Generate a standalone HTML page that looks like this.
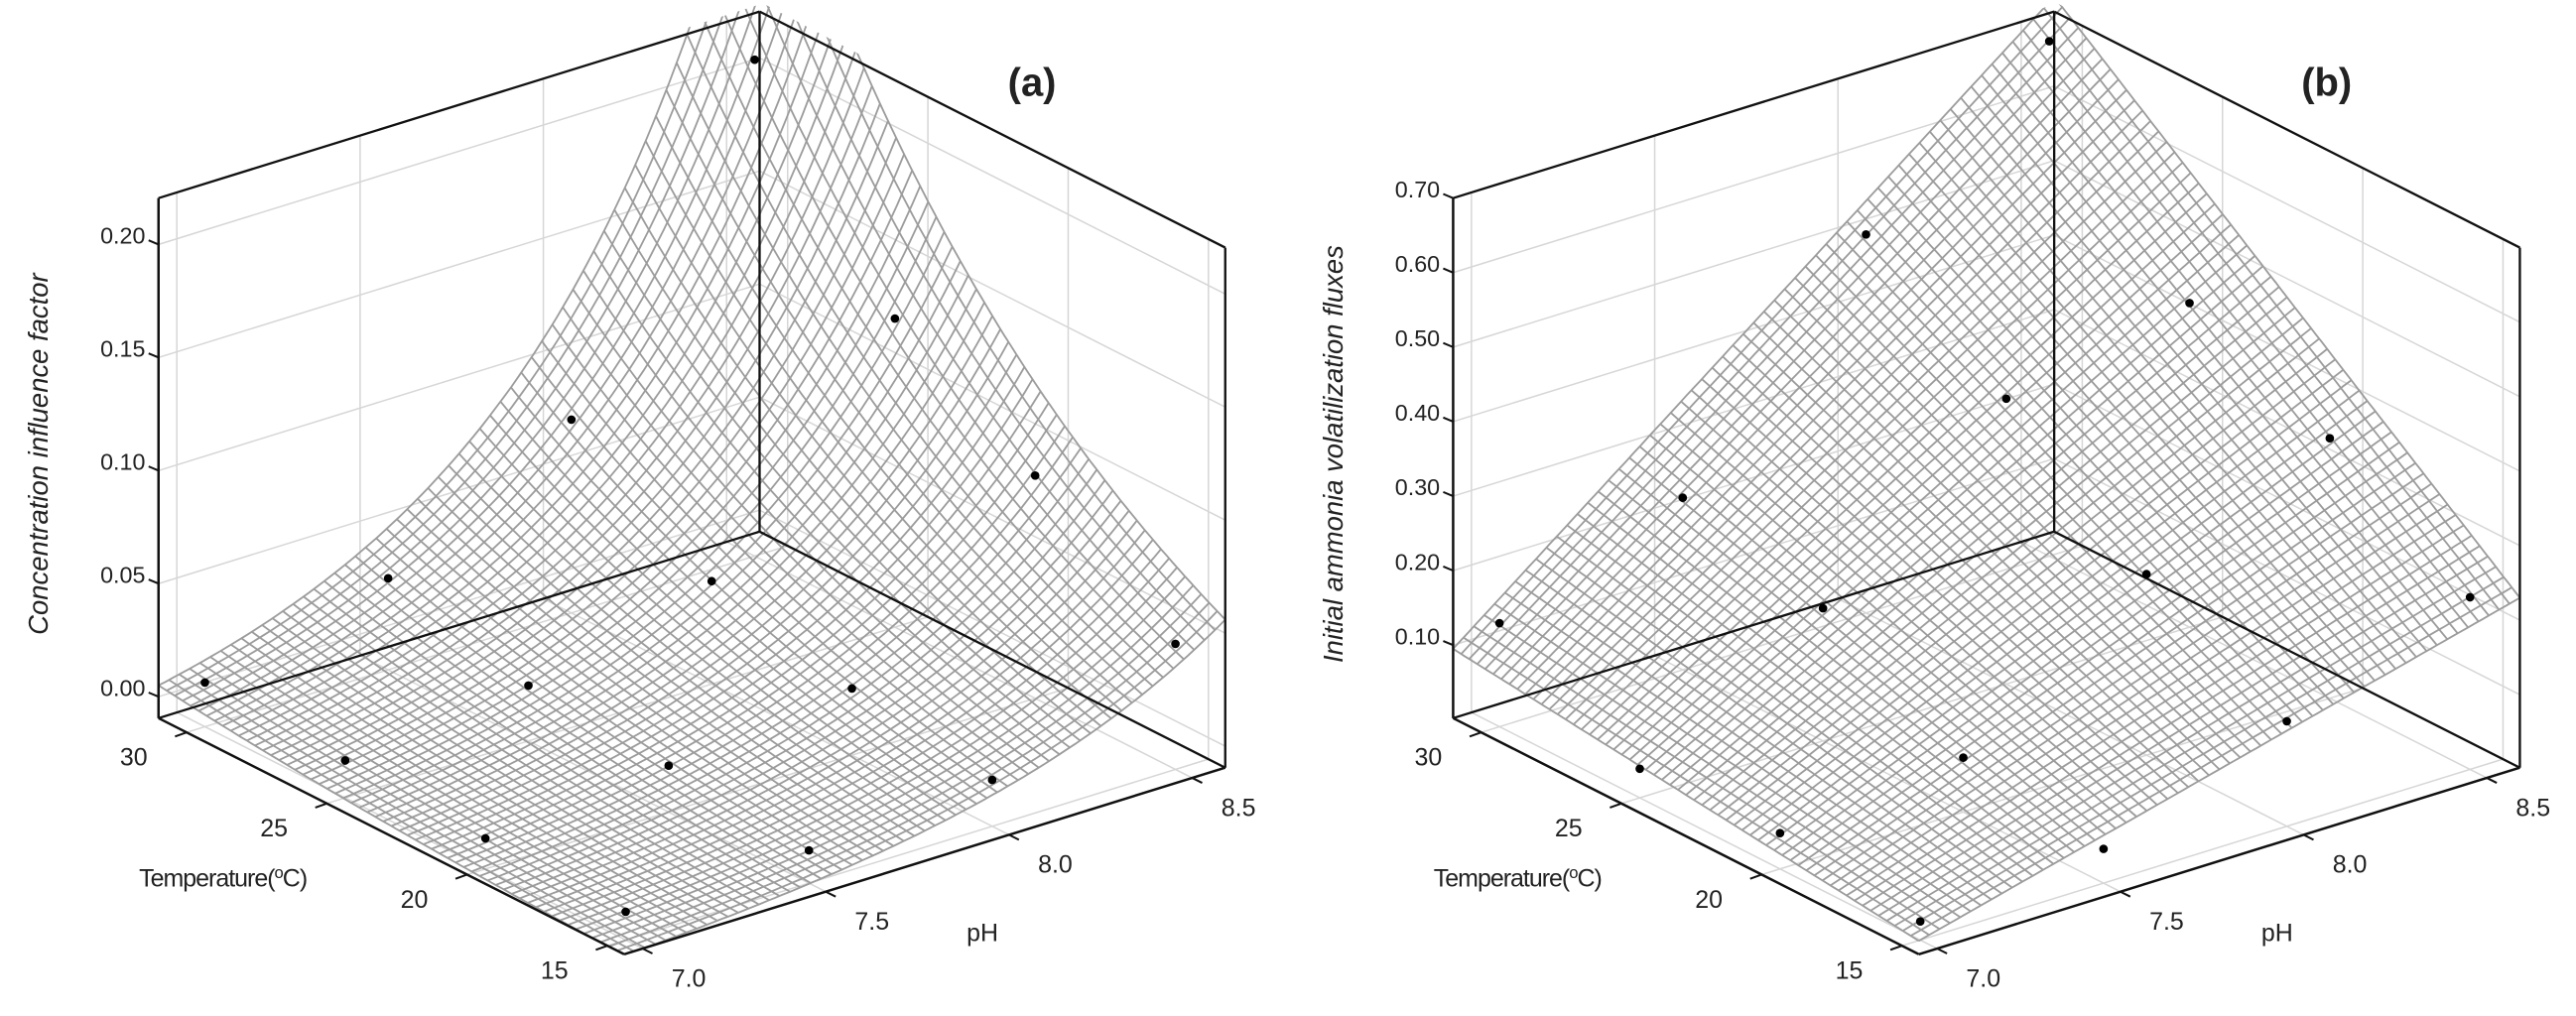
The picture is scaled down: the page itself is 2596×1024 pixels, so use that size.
<!DOCTYPE html>
<html><head><meta charset="utf-8"><style>
html,body{margin:0;padding:0;background:#fff;}
svg{display:block;}
text{font-family:"Liberation Sans",Arial,sans-serif;fill:#222;}
</style></head><body>
<svg id="fig" xmlns="http://www.w3.org/2000/svg" width="2596" height="1024" viewBox="0 0 1560 615.4" preserveAspectRatio="none">
<defs>
<clipPath id="clipA"><polygon points="96,120 462,2 742,150 742,465 378,578 96,435"/></clipPath>
<clipPath id="clipB"><polygon points="880,120 1246,2 1526,150 1526,465 1162,578 880,435"/></clipPath>
</defs>
<g id="panelA"></g>
<g id="panelB"></g>
</svg>
<script>
// ---- data ----
const temps = [15, 20, 25, 30];
const phs = [7.0, 7.5, 8.0, 8.5];
// rows: temperature, cols: pH
const valuesA = [
  [0.003, 0.005, 0.011, 0.046],
  [0.004, 0.011, 0.020, 0.089],
  [0.007, 0.015, 0.036, 0.127],
  [0.010, 0.031, 0.076, 0.210]
];
const valuesB = [
  [0.027, 0.048, 0.143, 0.233],
  [0.050, 0.075, 0.245, 0.351],
  [0.041, 0.180, 0.385, 0.437],
  [0.141, 0.233, 0.510, 0.693]
];
const zTicksA = [0.00, 0.05, 0.10, 0.15, 0.20];
const zTickLabelsA = ["0.00", "0.05", "0.10", "0.15", "0.20"];
const zTicksB = [0.10, 0.20, 0.30, 0.40, 0.50, 0.60, 0.70];
const zTickLabelsB = ["0.10", "0.20", "0.30", "0.40", "0.50", "0.60", "0.70"];
const tTicks = [15, 20, 25, 30];
const tTickLabels = ["15", "20", "25", "30"];
const phTicks = [7.0, 7.5, 8.0, 8.5];
const phTickLabels = ["7.0", "7.5", "8.0", "8.5"];
// fitted surface corner values: [T low & pH low, T low & pH high, T high & pH low, T high & pH high]
const surfaceCornersA = [0.005, 0.071, 0.020, 0.330];
const surfaceCornersB = [0.020, 0.230, 0.095, 0.720];

const NS = "http://www.w3.org/2000/svg";
const T0 = 14.4, T1 = 31.0, P0 = 6.95, P1 = 8.59;

function makePanel(cfg) {
  const g = document.getElementById(cfg.id);
  const Fx = cfg.Fx, Fy = 578;
  function proj(T, pH, z) {
    const u = (pH - P0) / (P1 - P0), v = (T - T0) / (T1 - T0);
    const w = (z - cfg.z0) / (cfg.z1 - cfg.z0);
    return [Fx + 364 * u - 282 * v, Fy - 113 * u - 143 * v - 315 * w];
  }
  function el(tag, attrs, parent) {
    const e = document.createElementNS(NS, tag);
    for (const k in attrs) e.setAttribute(k, attrs[k]);
    (parent || g).appendChild(e);
    return e;
  }
  function line(a, b, stroke, sw, parent, name) {
    const e = el("line", {x1: a[0], y1: a[1], x2: b[0], y2: b[1], stroke: stroke, "stroke-width": sw}, parent);
    
    
    return e;
  }
  const gridC = "#d6d6d6";
  cfg.zTicks.forEach(z => {
    line(proj(T1, P0, z), proj(T1, P1, z), gridC, 0.9, g, 'left-wall-gridline');
    line(proj(T1, P1, z), proj(T0, P1, z), gridC, 0.9, g, 'right-wall-gridline');
  });
  phTicks.forEach(p => {
    line(proj(T1, p, cfg.z0), proj(T1, p, cfg.z1), gridC, 0.9, g, 'left-wall-gridline');
    line(proj(T0, p, cfg.z0), proj(T1, p, cfg.z0), gridC, 0.9, g, 'floor-gridline');
  });
  tTicks.forEach(t => {
    line(proj(t, P1, cfg.z0), proj(t, P1, cfg.z1), gridC, 0.9, g, 'right-wall-gridline');
    line(proj(t, P0, cfg.z0), proj(t, P1, cfg.z0), gridC, 0.9, g, 'floor-gridline');
  });

  // surface mesh
  const c = cfg.corners;
  function surf(T, pH) {
    const u = (pH - P0) / (P1 - P0), v = (T - T0) / (T1 - T0);
    if (cfg.log) {
      const off = 0.015;
      const l = c.map(x => Math.log(x));
      const lv = l[0] * (1 - u) * (1 - v) + l[1] * u * (1 - v) + l[2] * (1 - u) * v + l[3] * u * v;
      return Math.exp(lv) - off;
    }
    return c[0] * (1 - u) * (1 - v) + c[1] * u * (1 - v) + c[2] * (1 - u) * v + c[3] * u * v;
  }
  const mesh = el("g", {"clip-path": "url(#" + cfg.clip + ")", fill: "none", stroke: "#9c9c9c", "stroke-width": 1.1});
  
  
  const N = 58, M = 80;
  for (let i = 0; i <= N; i++) {
    const pH = P0 + (P1 - P0) * i / N;
    let d = "";
    for (let j = 0; j <= M; j++) {
      const T = T0 + (T1 - T0) * j / M;
      const p = proj(T, pH, surf(T, pH));
      d += (j ? "L" : "M") + p[0].toFixed(1) + " " + p[1].toFixed(1);
    }
    const e = el("path", {d: d}, mesh);
    
    
  }
  for (let i = 0; i <= N; i++) {
    const T = T0 + (T1 - T0) * i / N;
    let d = "";
    for (let j = 0; j <= M; j++) {
      const pH = P0 + (P1 - P0) * j / M;
      const p = proj(T, pH, surf(T, pH));
      d += (j ? "L" : "M") + p[0].toFixed(1) + " " + p[1].toFixed(1);
    }
    const e = el("path", {d: d}, mesh);
    
    
  }

  // box edges
  const bk = "#111";
  line(proj(T1, P0, cfg.z0), proj(T1, P1, cfg.z0), bk, 1.4, g, 'floor-back-edge');
  line(proj(T1, P1, cfg.z0), proj(T0, P1, cfg.z0), bk, 1.4, g, 'floor-back-edge');
  line(proj(T1, P1, cfg.z0), proj(T1, P1, cfg.z1), bk, 1.4, g, 'back-vertical-edge');
  line(proj(T1, P0, cfg.z1), proj(T1, P1, cfg.z1), bk, 1.4, g, 'top-left-edge');
  line(proj(T1, P1, cfg.z1), proj(T0, P1, cfg.z1), bk, 1.4, g, 'top-right-edge');
  line(proj(T0, P1, cfg.z0), proj(T0, P1, cfg.z1), bk, 1.4, g, 'right-vertical-edge');
  line(proj(T0, P0, cfg.z0), proj(T1, P0, cfg.z0), bk, 1.5, g, 'temperature-axis-line');
  line(proj(T0, P0, cfg.z0), proj(T0, P1, cfg.z0), bk, 1.5, g, 'ph-axis-line');
  line(proj(T1, P0, cfg.z0), proj(T1, P0, cfg.z1), bk, 1.5, g, 'z-axis-line');

  // data points
  temps.forEach((T, r) => {
    phs.forEach((pH, k) => {
      const p = proj(T, pH, cfg.values[r][k]);
      const e = el("circle", {cx: p[0], cy: p[1], r: 2.6, fill: "#000"});
      
      
    });
  });

  // z ticks
  cfg.zTicks.forEach((z, i) => {
    const p = proj(T1, P0, z);
    line(p, [p[0] - 6, p[1] - 2.5], bk, 1.2, g, 'z-tick');
    const t = el("text", {x: p[0] - 8, y: p[1] - 0.5, "font-size": 14, "text-anchor": "end"});
    t.textContent = cfg.zLabels[i];
    
    
  });
  // temperature ticks
  tTicks.forEach((tv, i) => {
    const p = proj(tv, P0, cfg.z0);
    line(p, [p[0] - 7, p[1] + 2.5], bk, 1.2, g, 'temperature-tick');
    const t = el("text", {x: p[0] - 32, y: p[1] + 20, "font-size": 15, "text-anchor": "middle"});
    t.textContent = tTickLabels[i];
    
    
  });
  // pH ticks
  phTicks.forEach((pv, i) => {
    const p = proj(T0, pv, cfg.z0);
    line(p, [p[0] + 6, p[1] + 3], bk, 1.2, g, 'ph-tick');
    const t = el("text", {x: p[0] + 28, y: p[1] + 23, "font-size": 15, "text-anchor": "middle"});
    t.textContent = phTickLabels[i];
    
    
  });
  // axis titles
  const tt = el("text", {x: cfg.Fx - 243, y: 537, "font-size": 15, "text-anchor": "middle", "letter-spacing": "-0.6"});
  tt.innerHTML = 'Temperature(<tspan dy="-5" font-size="10">o</tspan><tspan dy="5">C)</tspan>';
  
  
  const ph = el("text", {x: cfg.Fx + 217, y: 570, "font-size": 15, "text-anchor": "middle"});
  ph.textContent = "pH";
  
  
  const zx = cfg.Fx - 349, zy = 275;
  const zt = el("text", {x: zx, y: zy, "font-size": 16.5, "font-style": "italic", "text-anchor": "middle", transform: "rotate(-90 " + zx + " " + zy + ")"});
  zt.textContent = cfg.zTitle;
  
  
  const pt = el("text", {x: cfg.Fx + 247, y: 58, "font-size": 24, "font-weight": "bold", "text-anchor": "middle"});
  pt.textContent = cfg.title;
  
  
}

makePanel({id: "panelA", Fx: 378, z0: -0.0095, z1: 0.2205, values: valuesA, corners: surfaceCornersA, log: true,
  zTicks: zTicksA, zLabels: zTickLabelsA, clip: "clipA", zTitle: "Concentration influence factor", title: "(a)"});
makePanel({id: "panelB", Fx: 1162, z0: 0.002, z1: 0.70, values: valuesB, corners: surfaceCornersB, log: false,
  zTicks: zTicksB, zLabels: zTickLabelsB, clip: "clipB", zTitle: "Initial ammonia volatilization fluxes", title: "(b)"});
</script>
</body></html>
